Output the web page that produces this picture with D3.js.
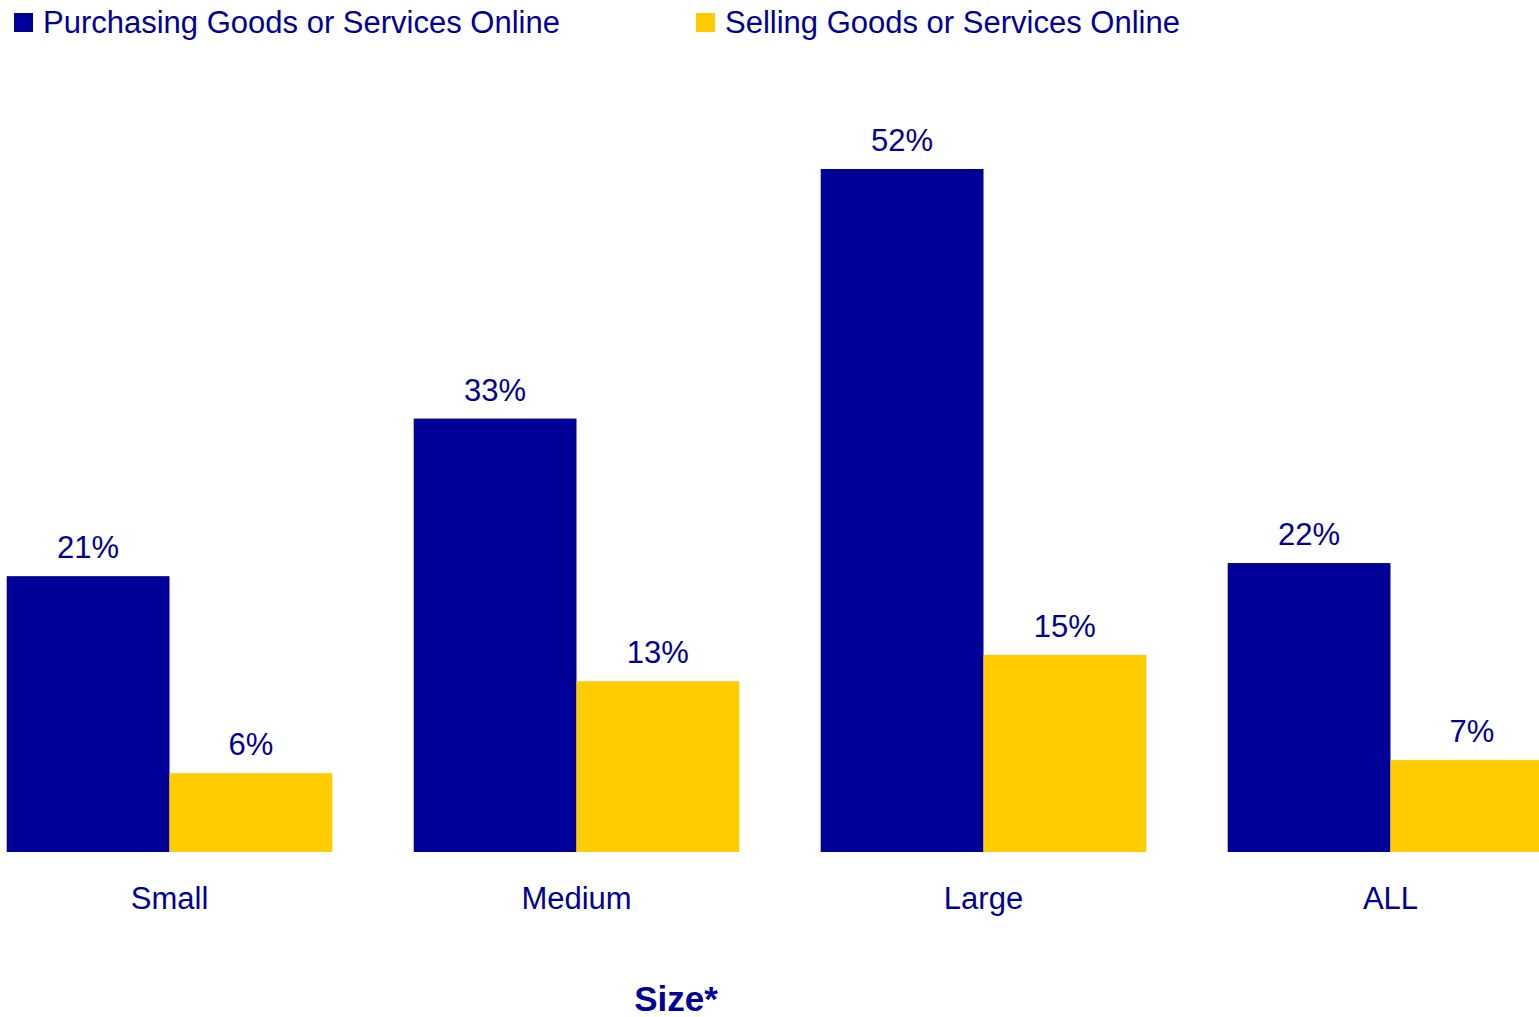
<!DOCTYPE html>
<html>
<head>
<meta charset="utf-8">
<script src="https://cdn.jsdelivr.net/npm/d3@7"></script>
<style>
  html, body { margin: 0; padding: 0; background: #fff; }
  svg { display: block; }
  text { font-family: "Liberation Sans", Arial, sans-serif; fill: #000099; }
</style>
</head>
<body>
<svg id="chart" width="1539" height="1017"></svg>
<script>
// Share of businesses buying / selling online, by business size
const categories = ["Small", "Medium", "Large", "ALL"];
const seriesNames = ["Purchasing Goods or Services Online", "Selling Goods or Services Online"];
const purchasing = [21, 33, 52, 22];
const selling = [6, 13, 15, 7];
const axisTitle = "Size*";

const colors = ["#000099", "#FFCC00"];
const svg = d3.select("#chart");
const baseY = 852;
const fontSize = "31px";

const x = d3.scaleBand()
  .domain(categories)
  .range([-34, 1594])
  .paddingInner(0.2)
  .paddingOuter(0.1);

const xs = d3.scaleBand()
  .domain([0, 1])
  .range([0, x.bandwidth()]);

const y = d3.scaleLinear()
  .domain([0, 52])
  .range([baseY, 169]);

const data = categories.map((c, i) => ({ cat: c, vals: [purchasing[i], selling[i]] }));

const groups = svg.append("g").selectAll("g")
  .data(data)
  .join("g")
  .attr("transform", d => `translate(${x(d.cat)},0)`);

groups.selectAll("rect")
  .data(d => d.vals.map((v, k) => ({ v, k })))
  .join("rect")
  .attr("x", d => xs(d.k))
  .attr("width", xs.bandwidth())
  .attr("y", d => y(d.v))
  .attr("height", d => baseY - y(d.v))
  .attr("fill", d => colors[d.k]);

groups.selectAll("text.val")
  .data(d => d.vals.map((v, k) => ({ v, k })))
  .join("text")
  .attr("class", "val")
  .attr("x", d => xs(d.k) + xs.bandwidth() / 2)
  .attr("y", d => y(d.v) - 18)
  .attr("text-anchor", "middle")
  .style("font-size", fontSize)
  .text(d => d.v + "%");

// category axis (labels only, no line or ticks)
const xAxis = d3.axisBottom(x).tickSize(0).tickPadding(0);
const axisG = svg.append("g")
  .attr("transform", `translate(0,${baseY})`)
  .call(xAxis);
axisG.select(".domain").remove();
axisG.selectAll("text")
  .attr("dy", null)
  .attr("y", 57)
  .attr("fill", "#000099")
  .style("font-size", fontSize)
  .style("font-family", "'Liberation Sans', Arial, sans-serif");

svg.append("text")
  .attr("x", 676)
  .attr("y", 1011)
  .attr("text-anchor", "middle")
  .style("font-size", "35px")
  .style("font-weight", "bold")
  .text(axisTitle);

// legend
const legendX = [14, 696];
const legend = svg.append("g").selectAll("g")
  .data(seriesNames)
  .join("g")
  .attr("transform", (d, i) => `translate(${legendX[i]},0)`);
legend.append("rect")
  .attr("x", 0).attr("y", 13)
  .attr("width", 19).attr("height", 19)
  .attr("fill", (d, i) => colors[i]);
legend.append("text")
  .attr("x", 29)
  .attr("y", 33)
  .style("font-size", fontSize)
  .text(d => d);
</script>
</body>
</html>
